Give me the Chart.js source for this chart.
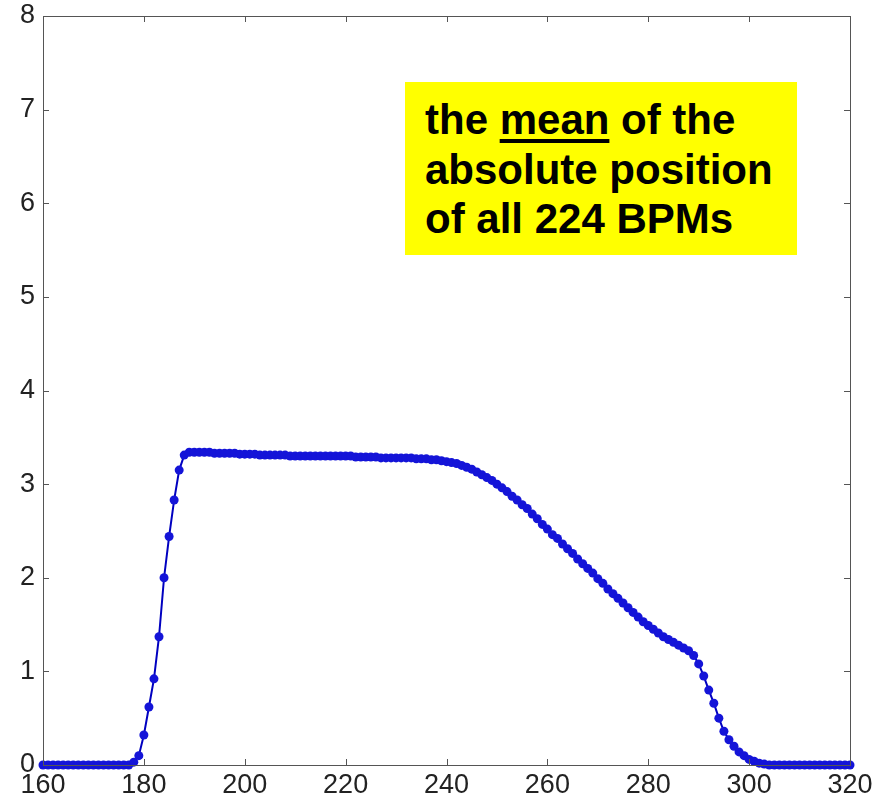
<!DOCTYPE html>
<html>
<head>
<meta charset="utf-8">
<script src="https://cdn.jsdelivr.net/npm/chart.js@4/dist/chart.umd.min.js"></script>
<style>
  html, body { margin: 0; padding: 0; background: #fff; }
  #wrap { position: relative; width: 885px; height: 800px; }
  #note {
    position: absolute; left: 405px; top: 82px; width: 372px; height: 160px;
    padding: 13px 0 0 20px; background: #ffff00; color: #000;
    font: bold 42px/49.5px "Liberation Sans", Arial, sans-serif; white-space: nowrap;
  }
  #note u { text-decoration-thickness: 4px; text-underline-offset: 5px; }
</style>
</head>
<body>
<div id="wrap">
  <canvas id="bpmChart" width="885" height="800"></canvas>
  <div id="note">the <u>mean</u> of the<br>absolute position<br>of all 224 BPMs</div>
</div>
<script>
// turn positions (x axis)
const positions = [
    160, 161, 162, 163, 164, 165, 166, 167, 168, 169,
    170, 171, 172, 173, 174, 175, 176, 177, 178, 179,
    180, 181, 182, 183, 184, 185, 186, 187, 188, 189,
    190, 191, 192, 193, 194, 195, 196, 197, 198, 199,
    200, 201, 202, 203, 204, 205, 206, 207, 208, 209,
    210, 211, 212, 213, 214, 215, 216, 217, 218, 219,
    220, 221, 222, 223, 224, 225, 226, 227, 228, 229,
    230, 231, 232, 233, 234, 235, 236, 237, 238, 239,
    240, 241, 242, 243, 244, 245, 246, 247, 248, 249,
    250, 251, 252, 253, 254, 255, 256, 257, 258, 259,
    260, 261, 262, 263, 264, 265, 266, 267, 268, 269,
    270, 271, 272, 273, 274, 275, 276, 277, 278, 279,
    280, 281, 282, 283, 284, 285, 286, 287, 288, 289,
    290, 291, 292, 293, 294, 295, 296, 297, 298, 299,
    300, 301, 302, 303, 304, 305, 306, 307, 308, 309,
    310, 311, 312, 313, 314, 315, 316, 317, 318, 319,
    320
];

// mean absolute position of all BPMs
const meanPosition = [
    0, 0, 0, 0, 0, 0, 0, 0, 0, 0,
    0, 0, 0, 0, 0, 0, 0, 0, 0.03, 0.10,
    0.32, 0.62, 0.92, 1.37, 2.00, 2.44, 2.83, 3.15, 3.31, 3.34,
    3.34, 3.34, 3.34, 3.34, 3.33, 3.33, 3.33, 3.33, 3.33, 3.32,
    3.32, 3.32, 3.32, 3.31, 3.31, 3.31, 3.31, 3.31, 3.31, 3.30,
    3.30, 3.30, 3.30, 3.30, 3.30, 3.30, 3.30, 3.30, 3.30, 3.30,
    3.30, 3.30, 3.29, 3.29, 3.29, 3.29, 3.29, 3.28, 3.28, 3.28,
    3.28, 3.28, 3.28, 3.28, 3.27, 3.27, 3.27, 3.26, 3.26, 3.25,
    3.24, 3.23, 3.22, 3.20, 3.18, 3.16, 3.13, 3.10, 3.07, 3.04,
    3.00, 2.96, 2.92, 2.87, 2.83, 2.78, 2.74, 2.68, 2.63, 2.57,
    2.52, 2.46, 2.42, 2.36, 2.31, 2.26, 2.20, 2.15, 2.10, 2.05,
    1.99, 1.94, 1.88, 1.83, 1.78, 1.73, 1.68, 1.63, 1.58, 1.53,
    1.49, 1.45, 1.41, 1.37, 1.34, 1.31, 1.28, 1.25, 1.22, 1.17,
    1.08, 0.95, 0.80, 0.66, 0.50, 0.36, 0.27, 0.20, 0.14, 0.10,
    0.06, 0.04, 0.02, 0.01, 0, 0, 0, 0, 0, 0,
    0, 0, 0, 0, 0, 0, 0, 0, 0, 0,
    0
];

const xTicks = [160, 180, 200, 220, 240, 260, 280, 300, 320];
const yTicks = [0, 1, 2, 3, 4, 5, 6, 7, 8];

// matlab style box with inward ticks on all four sides
const boxPlugin = {
    id: 'boxPlugin',
    afterDraw(chart) {
        const { ctx, chartArea: a, scales } = chart;
        const len = 6;
        ctx.save();
        ctx.strokeStyle = '#555';
        ctx.lineWidth = 1;
        ctx.strokeRect(a.left + 0.5, a.top + 0.5, a.right - a.left, a.bottom - a.top);
        ctx.beginPath();
        xTicks.forEach(v => {
            const px = Math.round(scales.x.getPixelForValue(v)) + 0.5;
            ctx.moveTo(px, a.bottom); ctx.lineTo(px, a.bottom - len);
            ctx.moveTo(px, a.top); ctx.lineTo(px, a.top + len);
        });
        yTicks.forEach(v => {
            const py = Math.round(scales.y.getPixelForValue(v)) + 0.5;
            ctx.moveTo(a.left, py); ctx.lineTo(a.left + len, py);
            ctx.moveTo(a.right, py); ctx.lineTo(a.right - len, py);
        });
        ctx.stroke();
        ctx.restore();
    }
};

const tickFont = { family: 'Liberation Sans', size: 27 };

const ctx = document.getElementById('bpmChart').getContext('2d');
new Chart(ctx, {
    type: 'line',
    data: {
        datasets: [{
            data: positions.map((x, i) => ({ x, y: meanPosition[i] })),
            borderColor: '#0000c0',
            borderWidth: 2,
            backgroundColor: '#1414d8',
            pointBackgroundColor: '#1414d8',
            pointBorderWidth: 0,
            pointRadius: 4.5,
            tension: 0,
            clip: false
        }]
    },
    options: {
        responsive: false,
        animation: false,
        layout: { padding: { top: 16, right: 35, left: 0, bottom: 0 } },
        plugins: { legend: { display: false }, tooltip: { enabled: false } },
        scales: {
            x: {
                type: 'linear', min: 160, max: 320,
                afterFit: s => { s.height = 35; s.paddingLeft = 0; s.paddingRight = 0; },
                afterBuildTicks: s => { s.ticks = xTicks.map(v => ({ value: v })); },
                grid: { display: false, drawTicks: false },
                border: { display: false },
                ticks: { color: '#222', padding: 4, maxRotation: 0, font: tickFont }
            },
            y: {
                min: 0, max: 8,
                afterFit: s => { s.width = 43; s.paddingTop = 0; s.paddingBottom = 0; },
                afterBuildTicks: s => { s.ticks = yTicks.map(v => ({ value: v })); },
                grid: { display: false, drawTicks: false },
                border: { display: false },
                ticks: { color: '#222', padding: 8, font: tickFont }
            }
        }
    },
    plugins: [boxPlugin]
});
</script>
</body>
</html>
